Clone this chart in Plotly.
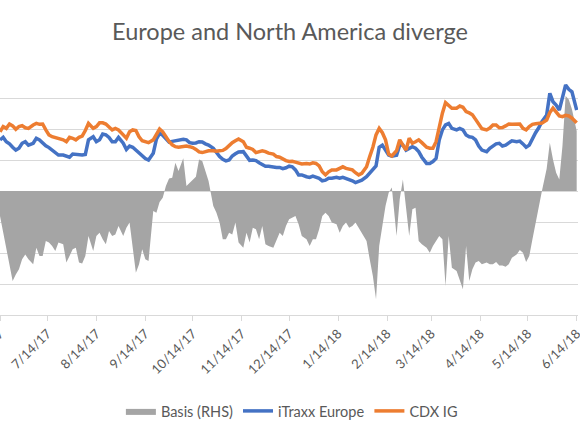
import plotly.graph_objects as go
import pandas as pd

TITLE = "Europe and North America diverge"
FONT = "Lato"
TEXT_GREY = "#595959"
GRID_GREY = "#D9D9D9"

# observation dates, roughly every other day from mid June 2017 to mid June 2018
dates = pd.date_range("2017-06-14", "2018-06-14", periods=174).normalize()

# 5y index spreads (bp), left axis
itraxx_europe = [
    56.5, 57.3, 55.9, 55.2, 54.1, 53.2, 53.8, 55.4, 55.9, 54.8,
    55.4, 57.0, 56.5, 55.4, 54.6, 54.0, 53.2, 52.5, 51.6, 51.6,
    51.1, 50.9, 51.9, 51.8, 51.6, 51.6, 51.8, 56.5, 57.5, 55.9,
    56.5, 58.4, 58.1, 57.3, 55.9, 55.9, 57.3, 55.4, 53.4, 54.5,
    54.1, 53.2, 52.4, 51.4, 50.5, 50.0,
    52.2, 56.7, 58.6, 58.0, 56.7, 55.8, 56.0, 56.2, 56.2, 56.7,
    56.5, 55.6, 55.4, 55.5, 55.9, 55.8, 55.2, 54.8, 53.8, 52.2,
    51.1, 50.2, 49.7, 50.0, 51.3, 52.0, 52.6, 52.7, 51.1, 49.9,
    50.0, 49.8, 49.1, 48.4, 48.0, 48.0, 47.6, 47.6, 47.6, 47.2,
    47.5,
    48.0, 47.8, 46.8, 45.2, 45.2, 44.6, 44.4, 44.8, 44.4, 44.1,
    43.3, 43.5, 44.1, 44.1, 44.4, 44.1, 44.4, 44.1, 43.8, 43.3,
    42.7, 43.0, 43.5, 44.6, 45.7, 46.8, 48.1, 54.1, 54.8, 53.2,
    51.6, 51.2, 51.5, 54.8, 54.8, 53.2, 53.8, 54.3, 53.8, 52.7,
    50.9, 48.9,
    48.9, 49.5, 50.5, 56.5, 59.7, 61.3, 61.8, 60.2, 59.7, 60.2,
    59.7, 58.1, 57.5, 57.3, 56.5, 54.5, 53.2, 52.7, 53.8, 54.5,
    55.2, 55.4, 54.5, 54.8, 55.4, 56.2, 55.9, 56.1, 55.2, 54.1,
    54.8, 57.0, 58.8, 60.4, 62.4, 64.5, 71.5, 68.8, 67.7, 66.1,
    70.4, 74.2, 72.8, 72.0, 66.1,
]

cdx_ig = [
    59.1, 60.8, 60.2, 61.6, 61.0, 59.9, 60.8, 61.1, 60.4, 60.2,
    61.3, 61.8, 61.5, 61.6, 59.7, 58.1, 57.5, 57.2, 56.8, 56.5,
    55.9, 57.3, 57.0, 56.5, 57.3, 57.7, 59.5, 61.8, 60.2, 60.8,
    62.0, 62.0, 61.6, 60.8, 59.7, 60.2, 59.7, 58.1, 57.0, 59.1,
    59.7, 59.5, 57.5, 56.2, 55.9, 55.6,
    56.5, 58.4, 60.0, 59.1, 57.5, 56.0, 54.9, 54.3, 54.1, 54.3,
    54.5, 54.3, 54.0, 53.4, 52.6, 52.4, 52.7, 53.0, 53.0, 52.8,
    53.0, 53.1, 53.7, 54.7, 55.6, 56.2, 56.8, 55.9, 54.1, 53.8,
    53.4, 52.4, 52.7, 53.0, 52.7, 52.2, 51.9, 51.1, 50.9, 50.2,
    49.8,
    49.5, 49.6, 49.3, 48.9, 48.7, 48.9, 48.7, 49.1, 48.9, 48.1,
    46.2, 45.2, 46.2, 46.8, 46.8, 47.3, 47.8, 47.3, 47.0, 46.8,
    45.9, 45.2, 45.7, 47.8, 51.1, 54.1, 58.1, 60.2, 58.8, 56.5,
    51.9, 51.3, 53.0, 56.5, 54.8, 53.2, 57.0, 55.4, 55.9, 56.5,
    55.6, 54.1,
    53.8, 53.8, 55.9, 60.8, 65.1, 68.5, 67.4, 66.7, 66.7, 67.4,
    67.0, 65.6, 65.2, 64.6, 63.1, 61.6, 60.1, 59.7, 60.3, 61.3,
    61.3, 60.4, 60.5, 61.0, 61.6, 61.5, 61.6, 61.6, 60.2, 59.7,
    60.8, 61.5, 61.7, 61.7, 61.9, 62.9, 65.3, 66.7, 65.3, 64.2,
    64.0, 64.4, 64.2, 63.5, 62.0,
]

# basis, right hand scale
basis_rhs = [
    -1.61, -2.69, -3.55, -4.84, -5.81, -5.38, -5.05, -4.41, -4.09, -4.41,
    -4.73, -3.66, -4.19, -4.19, -3.23, -3.33, -3.55, -3.87, -3.33, -3.44,
    -4.62, -4.19, -3.76, -3.66, -4.62, -4.67, -4.19, -2.90, -3.87, -2.90,
    -2.69, -3.12, -3.44, -2.58, -2.90, -2.80, -2.26, -2.90, -2.37, -2.04,
    -3.55, -5.27, -4.73, -3.76, -4.41, -4.52,
    -1.29, -1.40, -0.71, -0.43, 0.32, 0.80, 0.86, 1.83, 1.29, 2.11,
    0.32, 0.54, 0.71, 0.92, 2.04, 1.94, 1.29, 0.65, -0.97, -1.40,
    -2.04, -3.12, -3.12, -2.69, -2.80, -2.04, -3.33, -3.66, -2.69, -3.33,
    -2.37, -2.47, -3.12, -2.26, -3.44, -3.55, -3.66, -3.12, -2.69, -2.90,
    -2.26,
    -1.83, -1.72, -1.61, -2.15, -2.90, -3.12, -3.55, -3.12, -3.12, -2.47,
    -1.61, -1.40, -1.61, -2.04, -2.15, -2.69, -2.26, -2.04, -2.37, -2.26,
    -2.04, -2.37, -2.69, -3.23, -4.41, -5.48, -6.99, -3.55, -2.26, -0.97,
    -0.11, 0.22, -2.90, -0.54, 0.75, -0.97, -2.90, -1.18, -1.08, -3.23,
    -3.44, -3.66,
    -3.98, -3.55, -3.23, -2.90, -3.12, -6.13, -2.90, -4.95, -5.16, -5.70,
    -6.34, -3.55, -5.81, -5.05, -4.62, -4.52, -4.73, -4.62, -4.73, -4.73,
    -4.58, -4.80, -4.80, -4.88, -4.73, -4.30, -4.09, -3.81, -3.98, -4.58,
    -4.19, -3.12, -2.04, -0.86, 0.00, 1.44, 3.12, 2.04, 1.18, 0.75,
    2.90, 6.13, 5.91, 5.27, 3.87,
]

tick_dates = [
    "2017-06-14", "2017-07-14", "2017-08-14", "2017-09-14", "2017-10-14",
    "2017-11-14", "2017-12-14", "2018-01-14", "2018-02-14", "2018-03-14",
    "2018-04-14", "2018-05-14", "2018-06-14",
]

fig = go.Figure()

# basis goes on the first axis so the area sits behind the two lines
fig.add_trace(go.Scatter(
    x=dates, y=basis_rhs, name="Basis (RHS)", mode="lines",
    fill="tozeroy", fillcolor="#A5A5A5",
    line=dict(width=0, color="#A5A5A5"), yaxis="y",
))
fig.add_trace(go.Scatter(
    x=dates, y=itraxx_europe, name="iTraxx Europe", mode="lines",
    line=dict(color="#4472C4", width=3.5), yaxis="y2",
))
fig.add_trace(go.Scatter(
    x=dates, y=cdx_ig, name="CDX IG", mode="lines",
    line=dict(color="#ED7D31", width=3.5), yaxis="y2",
))

fig.update_layout(
    width=580, height=435,
    margin=dict(l=0, r=2, t=67, b=120, autoexpand=False),
    paper_bgcolor="white", plot_bgcolor="white",
    font=dict(family=FONT, color=TEXT_GREY),
    title=dict(text=TITLE, x=0.5, xanchor="center", y=0.926, yanchor="middle",
               font=dict(family=FONT, size=23.5, color=TEXT_GREY)),
    showlegend=True,
    legend=dict(orientation="h", x=0.505, xanchor="center", y=-0.387, yanchor="middle",
                font=dict(size=14.5, color=TEXT_GREY), traceorder="normal"),
    xaxis=dict(
        range=["2017-06-14", "2018-06-14 20:00"], automargin=False,
        tickvals=tick_dates, tickformat="%-m/%-d/%y", tickangle=-45,
        tickfont=dict(size=13, color=TEXT_GREY), ticklabeloverflow="allow",
        ticks="outside", ticklen=5, tickcolor=GRID_GREY,
        showline=True, linecolor=GRID_GREY, linewidth=1,
        showgrid=False, zeroline=False,
    ),
    yaxis=dict(
        range=[-8, 8], dtick=2, showgrid=True, gridcolor=GRID_GREY, gridwidth=1,
        showticklabels=False, zeroline=False, ticks="", automargin=False,
    ),
    yaxis2=dict(
        range=[0, 80], overlaying="y", side="left", showgrid=False,
        showticklabels=False, zeroline=False, ticks="", automargin=False,
    ),
)

# drop the browser's default body margin so the chart sits at the window origin
fig.write_html("out.html", config={"displayModeBar": False},
               post_script="document.body.style.margin='0';")
